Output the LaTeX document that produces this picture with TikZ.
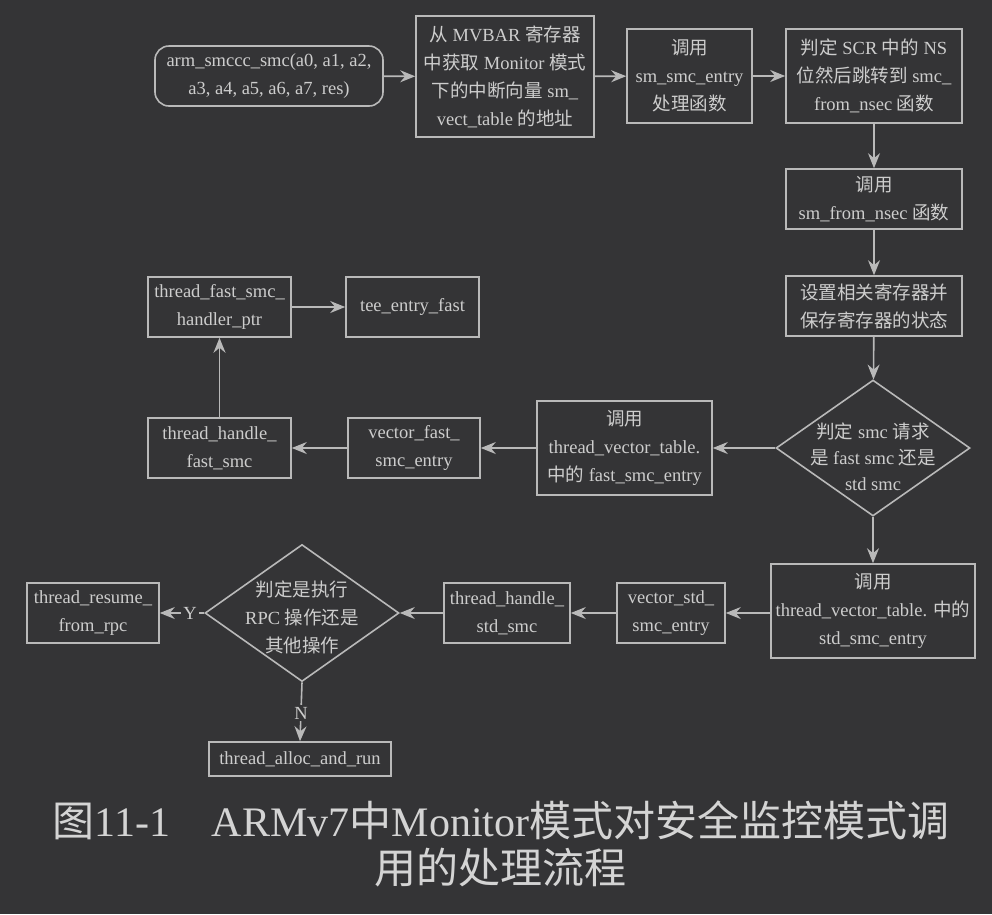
\documentclass[tikz,border=0pt]{standalone}
\usepackage{fontspec}
\setmainfont{Liberation Serif}
\newfontfamily\cjk{Noto Sans CJK SC}
\usetikzlibrary{arrows.meta,shapes.geometric}
\definecolor{bgc}{RGB}{52,52,54}
\definecolor{lnc}{RGB}{185,185,185}
\definecolor{txc}{RGB}{205,205,205}
\definecolor{capc}{RGB}{212,212,212}
\begin{document}
\begin{tikzpicture}[x=1pt,y=-1pt,
  box/.style={draw=lnc, line width=1.6pt, text=txc, align=center, inner sep=0pt,
    font=\fontsize{18.5}{28}\selectfont},
  dia/.style={draw=lnc, line width=1.6pt, diamond, inner sep=0pt},
  lbl/.style={text=txc, align=center, inner sep=0pt, font=\fontsize{18.5}{28}\selectfont},
  yn/.style={text=txc, fill=bgc, inner sep=2pt, font=\fontsize{18.5}{22}\selectfont},
  conn/.style={draw=lnc, line width=1.6pt, -{Stealth[length=15pt,width=12pt,inset=5pt]}},
  captxt/.style={text=capc, inner sep=0pt, font=\fontsize{42}{48}\selectfont},
]
\fill[bgc] (0,0) rectangle (992,914);
\useasboundingbox (0,0) rectangle (992,914);

% top row
\node[box, minimum width=228, minimum height=60, rounded corners=14pt] (n1) at (269,76)
  {arm\_smccc\_smc(a0, a1, a2,\\a3, a4, a5, a6, a7, res)};
\node[box, minimum width=178, minimum height=121] (n2) at (505,76.5)
  {{\cjk 从} MVBAR {\cjk 寄存器}\\{\cjk 中获取} Monitor {\cjk 模式}\\{\cjk 下的中断向量} sm\_\\vect\_table {\cjk 的地址}};
\node[box, minimum width=125, minimum height=94] (n3) at (689.5,76)
  {{\cjk 调用}\\sm\_smc\_entry\\{\cjk 处理函数}};
\node[box, minimum width=176, minimum height=94] (n4) at (874,76)
  {{\cjk 判定} SCR {\cjk 中的} NS\\{\cjk 位然后跳转到} smc\_\\from\_nsec {\cjk 函数}};
\node[box, minimum width=176, minimum height=60] (n5) at (874,199)
  {{\cjk 调用}\\sm\_from\_nsec {\cjk 函数}};
\node[box, minimum width=176, minimum height=60] (n6) at (874,306)
  {{\cjk 设置相关寄存器并}\\{\cjk 保存寄存器的状态}};

% first decision
\node[dia, minimum width=194, minimum height=136] (d1) at (873,448) {};
\node[lbl, font=\fontsize{18.5}{26}\selectfont] (d1t) at (873,457)
  {{\cjk 判定} smc {\cjk 请求}\\{\cjk 是} fast smc {\cjk 还是}\\std smc};

% fast branch
\node[box, minimum width=175, minimum height=94] (n8) at (624.5,448)
  {{\cjk 调用}\\thread\_vector\_table.\\{\cjk 中的} fast\_smc\_entry};
\node[box, minimum width=132, minimum height=60] (n9) at (414,448)
  {vector\_fast\_\\smc\_entry};
\node[box, minimum width=143, minimum height=60] (n10) at (219.5,448)
  {thread\_handle\_\\fast\_smc};
\node[box, minimum width=143, minimum height=60] (n11) at (219.5,307)
  {thread\_fast\_smc\_\\handler\_ptr};
\node[box, minimum width=133, minimum height=60] (n12) at (412.5,307)
  {tee\_entry\_fast};

% std branch
\node[box, minimum width=204, minimum height=94] (n13) at (873,611)
  {{\cjk 调用}\\thread\_vector\_table. {\cjk 中的}\\std\_smc\_entry};
\node[box, minimum width=108, minimum height=60] (n14) at (671,613)
  {vector\_std\_\\smc\_entry};
\node[box, minimum width=126, minimum height=60] (n15) at (507,613)
  {thread\_handle\_\\std\_smc};
\node[dia, minimum width=194, minimum height=137] (d2) at (302,613) {};
\node[lbl] (d2t) at (302,617)
  {{\cjk 判定是执行}\\RPC {\cjk 操作还是}\\{\cjk 其他操作}};
\node[box, minimum width=132, minimum height=60] (n17) at (93,613)
  {thread\_resume\_\\from\_rpc};
\node[box, minimum width=182, minimum height=34] (n18) at (300,759)
  {thread\_alloc\_and\_run};

% connectors
\draw[conn] (n1) -- (n2);
\draw[conn] (n2) -- (n3);
\draw[conn] (n3) -- (n4);
\draw[conn] (n4) -- (n5);
\draw[conn] (n5) -- (n6);
\draw[conn] (n6) -- (d1);
\draw[conn] (d1) -- (n8);
\draw[conn] (n8) -- (n9);
\draw[conn] (n9) -- (n10);
\draw[conn] (n10) -- (n11);
\draw[conn] (n11) -- (n12);
\draw[conn] (d1) -- (d1 |- n13.north);
\draw[conn] (n13.west |- n14) -- (n14);
\draw[conn] (n14) -- (n15);
\draw[conn] (n15) -- (d2);
\draw[conn] (d2.west) -- node[yn, pos=0.32] (ylab) {Y} (n17.east);
\draw[conn] (d2.south) -- node[yn, pos=0.52] (nlab) {N} (n18.north);

% caption
\node[captxt] (cap1) at (501,820)
  {{\cjk 图}11-1\hspace{1em}ARMv7{\cjk 中}Monitor{\cjk 模式对安全监控模式调}};
\node[captxt] (cap2) at (500,868) {{\cjk 用的处理流程}};
\end{tikzpicture}
\end{document}
